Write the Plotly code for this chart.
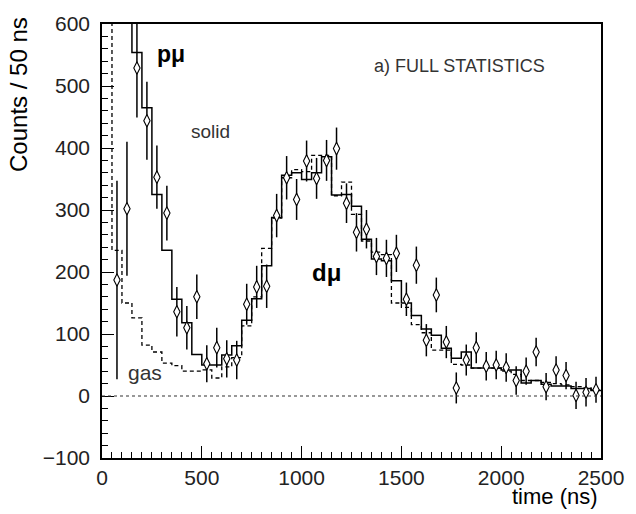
import plotly.graph_objects as go

# ---- data ----
bin_width = 50
bin_edges = list(range(0, 2550, 50))  # 0..2500

# solid-target histogram (counts per 50 ns bin, bins start at 0)
solid_counts = [700, 700, 700, 554, 465, 325, 235, 156, 118, 67,
                50, 50, 66, 81, 122, 157, 210, 288, 356, 360,
                349, 360, 386, 324, 325, 306, 253, 221, 218, 186,
                150, 130, 108, 98, 77, 61, 71, 45, 45, 45,
                42, 42, 21, 25, 19, 16, 16, 12, 12, 9]

# gas-target histogram (dashed)
gas_counts = [700, 235, 150, 126, 82, 71, 53, 49, 40, 40,
              42, 29, 47, 62, 113, 160, 238, 287, 352, 365,
              362, 388, 388, 323, 345, 293, 250, 232, 228, 150,
              143, 115, 102, 74, 74, 51, 50, 45, 45, 45,
              40, 35, 25, 25, 22, 20, 18, 15, 13, 10]

# measured points
point_time = [75, 125, 175, 225, 275, 325, 375, 425, 475, 525,
              575, 625, 675, 725, 775, 825, 875, 925, 975, 1025,
              1075, 1125, 1175, 1225, 1275, 1325, 1375, 1425, 1475, 1525,
              1575, 1625, 1675, 1725, 1775, 1825, 1875, 1925, 1975, 2025,
              2075, 2125, 2175, 2225, 2275, 2325, 2375, 2425, 2475]
point_counts = [187, 302, 529, 444, 353, 295, 136, 110, 160, 52,
                78, 60, 58, 148, 176, 177, 291, 352, 317, 379,
                351, 380, 399, 311, 264, 269, 225, 222, 230, 156,
                211, 90, 163, 87, 13, 58, 78, 48, 50, 46,
                25, 40, 71, 15, 42, 33, 1, 6, 10]
point_err = [160, 108, 80, 63, 51, 44, 40, 35, 36, 30,
             32, 30, 31, 33, 34, 35, 35, 35, 33, 33,
             33, 33, 34, 32, 31, 31, 30, 30, 30, 27,
             30, 26, 28, 26, 25, 25, 25, 23, 23, 23,
             23, 22, 23, 22, 22, 22, 22, 23, 21]

x_ticks = [0, 500, 1000, 1500, 2000, 2500]
y_ticks = [-100, 0, 100, 200, 300, 400, 500, 600]

FONT = "Liberation Sans, Arial, Helvetica, sans-serif"

fig = go.Figure()

# gas (dashed)
fig.add_trace(go.Scatter(
    x=bin_edges, y=gas_counts + [gas_counts[-1]],
    mode="lines", line=dict(shape="hv", color="black", width=1.3, dash="4px,3px"),
    hoverinfo="skip", showlegend=False))

# solid
fig.add_trace(go.Scatter(
    x=bin_edges, y=solid_counts + [solid_counts[-1]],
    mode="lines", line=dict(shape="hv", color="black", width=1.5),
    hoverinfo="skip", showlegend=False))

# data points
fig.add_trace(go.Scatter(
    x=point_time, y=point_counts,
    mode="markers",
    marker=dict(symbol="diamond-tall", size=9, color="white",
                line=dict(color="black", width=1.1)),
    error_y=dict(type="data", array=point_err, visible=True,
                 thickness=1.5, width=0, color="black"),
    cliponaxis=True, showlegend=False))

fig.add_shape(type="line", xref="paper", x0=0, x1=1, yref="y", y0=0, y1=0,
              line=dict(color="#333333", width=1.2, dash="dot"))

annots = [
    dict(x=345, y=551, text="<b>pμ</b>", size=23, color="black"),
    dict(x=545, y=427, text="solid", size=19, color="#333333"),
    dict(x=1125, y=200, text="<b>dμ</b>", size=24, color="black"),
    dict(x=214, y=38, text="gas", size=21, color="#333333"),
    dict(x=1790, y=532, text="a) FULL STATISTICS", size=18, color="#333333"),
]
for a in annots:
    fig.add_annotation(x=a["x"], y=a["y"], xref="x", yref="y", text=a["text"],
                       showarrow=False, font=dict(family=FONT, size=a["size"], color=a["color"]))

fig.add_annotation(xref="paper", yref="paper", x=-0.166, y=1.02, text="Counts / 50 ns",
                   textangle=-90, showarrow=False, xanchor="center", yanchor="top",
                   font=dict(family=FONT, size=24, color="black"))
fig.add_annotation(xref="paper", yref="paper", x=0.998, y=-0.088, text="time (ns)",
                   showarrow=False, xanchor="right", yanchor="middle",
                   font=dict(family=FONT, size=22, color="black"))

fig.update_layout(
    width=636, height=514,
    margin=dict(l=102, r=29, t=14, b=56),
    paper_bgcolor="white", plot_bgcolor="white",
    showlegend=False,
    font=dict(family=FONT, color="black"),
)
fig.update_xaxes(
    range=[0, 2500], tickvals=x_ticks, ticks="inside", ticklen=12, tickwidth=1,
    tickcolor="black", showgrid=False, zeroline=False,
    showline=True, linecolor="black", linewidth=1.5, mirror=True,
    tickfont=dict(family=FONT, size=21, color="#222222"),
    minor=dict(dtick=50, ticks="inside", ticklen=6, tickcolor="black", showgrid=False),
)
fig.update_yaxes(
    range=[-100, 600], tickvals=y_ticks, ticks="inside", ticklen=12, tickwidth=1,
    tickcolor="black", showgrid=False, zeroline=False,
    showline=True, linecolor="black", linewidth=1.5, mirror=True,
    ticklabelstandoff=6,
    tickfont=dict(family=FONT, size=21, color="#222222"),
    minor=dict(dtick=20, ticks="inside", ticklen=6, tickcolor="black", showgrid=False),
)

fig.write_html("out.html")
